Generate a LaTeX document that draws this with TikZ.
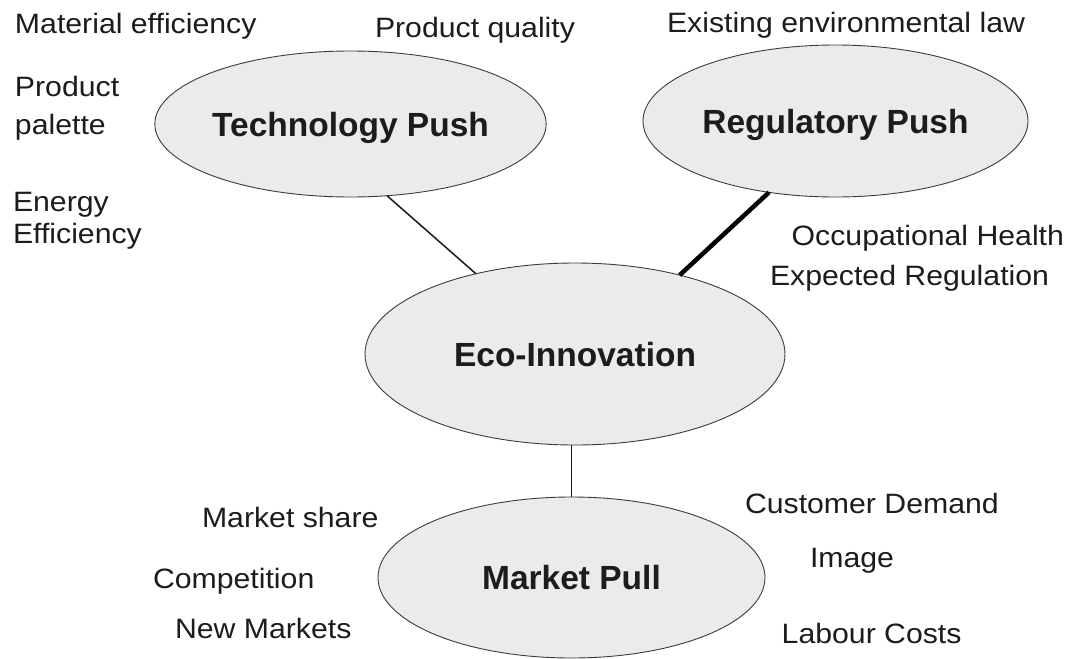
\documentclass[tikz,border=0pt]{standalone}
\usepackage{fontspec}
\setmainfont{Liberation Sans}
\newfontfamily\labfont[FakeStretch=1.08]{Liberation Sans}
\usetikzlibrary{shapes.geometric}
\definecolor{ellfill}{RGB}{235,235,235}
\definecolor{ellline}{RGB}{60,60,60}
\definecolor{txt}{RGB}{28,28,28}
\tikzset{
  ell/.style={ellipse, draw=ellline, line width=0.9pt, fill=ellfill, inner sep=0pt, outer sep=0pt,
    font=\fontsize{33.5}{38}\selectfont\bfseries, text=txt, text height=24pt, text depth=0pt},
  lab/.style={anchor=base west, inner sep=0pt, outer sep=0pt, font=\labfont\fontsize{28}{32}\selectfont, text=txt},
  thinlink/.style={draw=black!90, line width=1.5pt},
  thicklink/.style={draw=black, line width=4.5pt}
}
\begin{document}
\begin{tikzpicture}[x=1pt,y=-1pt]
\fill[white] (0,0) rectangle (1077,659);
\useasboundingbox (0,0) rectangle (1077,659);

% ellipses
\node[ell, minimum width=385pt, minimum height=146pt] (tech) at (350.5,124) {Technology Push};
\node[ell, minimum width=385pt, minimum height=152pt] (reg) at (835.5,121) {Regulatory Push};
\node[ell, minimum width=420pt, minimum height=182pt] (eco) at (575,354) {Eco-Innovation};
\node[ell, minimum width=387pt, minimum height=161pt] (mkt) at (571.5,577.5) {Market Pull};

% connectors
\draw[thinlink] (tech.-63.4) -- (eco.141.9);
\draw[thicklink] (reg.-133.3) -- (eco.37);
\draw[thinlink] (mkt.north |- eco.south) -- (mkt.north);

% labels
\node[lab] (matEff) at (15,33) {Material efficiency};
\node[lab] (prodQual) at (375,37) {Product quality};
\node[lab] (envLaw) at (667,32) {Existing environmental law};
\node[lab] (prodA) at (15,96.7) {Product};
\node[lab] (prodB) at (15,134) {palette};
\node[lab] (enA) at (13,211.7) {Energy};
\node[lab] (enB) at (13,243.3) {Efficiency};
\node[lab] (occ) at (791.7,245) {Occupational Health};
\node[lab] (expReg) at (770,285) {Expected Regulation};
\node[lab] (mshare) at (202,527) {Market share};
\node[lab] (comp) at (153,588) {Competition};
\node[lab] (newm) at (175,638) {New Markets};
\node[lab] (cust) at (745,513) {Customer Demand};
\node[lab] (img) at (810,567) {Image};
\node[lab] (labour) at (781.7,643) {Labour Costs};
\end{tikzpicture}
\end{document}
